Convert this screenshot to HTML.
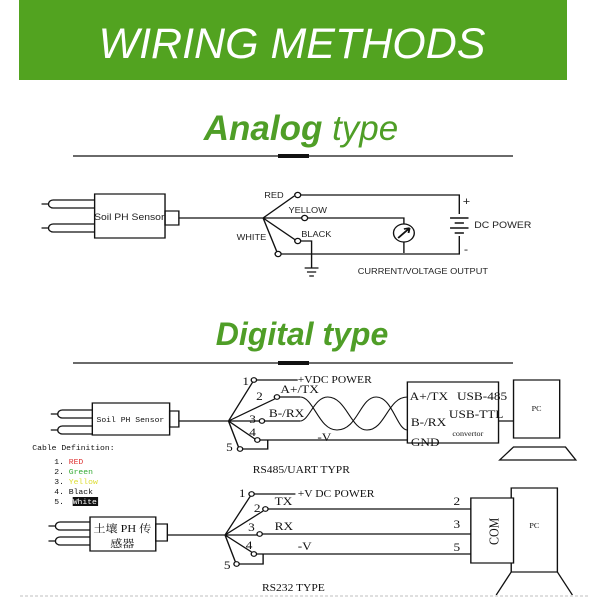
<!DOCTYPE html><html><head><meta charset="utf-8"><style>
body{margin:0;background:#fff;width:600px;height:600px;overflow:hidden}
svg{display:block}
.s{font-family:"Liberation Serif","Noto Serif CJK SC",serif;fill:#111}
.a{font-family:"Liberation Sans",sans-serif;fill:#222}
.m{font-family:"Liberation Mono",monospace;font-size:7px}
</style></head><body>
<svg width="600" height="600" viewBox="0 0 600 600" fill="none" stroke="#111" stroke-width="1.2">
<rect x="19" y="0" width="548" height="80" fill="#52a320" stroke="none"/>
<text x="292" y="58" text-anchor="middle" font-family="Liberation Sans,sans-serif" font-style="italic" font-size="43" fill="#fff" stroke="none">WIRING METHODS</text>
<text x="301" y="140" text-anchor="middle" font-family="Liberation Sans,sans-serif" font-style="italic" font-size="35" fill="#4f9e27" stroke="none"><tspan font-weight="bold">Analog</tspan> type</text>
<line x1="73" y1="156" x2="513" y2="156"/><rect x="278" y="154" width="31" height="4" fill="#111" stroke="none"/>
<text x="302" y="345" text-anchor="middle" font-family="Liberation Sans,sans-serif" font-style="italic" font-weight="bold" font-size="32" fill="#4f9e27" stroke="none">Digital type</text>
<line x1="73" y1="363" x2="513" y2="363"/><rect x="278" y="361" width="31" height="4" fill="#111" stroke="none"/>

<g transform="scale(1.154,1)">
<!-- Analog -->
<g>
<rect x="82" y="194" width="61" height="44"/><rect x="143" y="211" width="12" height="14"/>
<path d="M82 200H46a4 4 0 0 0 0 8H82M82 224H46a4 4 0 0 0 0 8H82M36 204H42M36 228H42"/>
<text x="112" y="220" text-anchor="middle" class="a" font-size="9" stroke="none">Soil PH Sensor</text>
<path d="M155 218H228L255 196M228 218H261M228 218L256 240M228 218L240 252"/>
<circle cx="258" cy="195" r="2.6" fill="#fff"/><circle cx="264" cy="218" r="2.6" fill="#fff"/>
<circle cx="258" cy="241" r="2.6" fill="#fff"/><circle cx="241" cy="254" r="2.6" fill="#fff"/>
<path d="M261 195H398V214M267 218H350V224M350 242V253M244 254H398V236M261 241H270V268"/>
<path d="M264 268H276M266 272H274M268 276H272"/>
<circle cx="350" cy="233" r="9"/><path d="M345 238L355 228M355 228l-5 1M355 228l-1 5" stroke-width="1.6"/>
<path d="M390 218H406M394 223H402M390 228H406M394 233H402" stroke-width="1.5"/>
<text x="229" y="198" class="a" font-size="8" stroke="none">RED</text>
<text x="250" y="213" class="a" font-size="8" stroke="none">YELLOW</text>
<text x="205" y="240" class="a" font-size="8" stroke="none">WHITE</text>
<text x="261" y="237" class="a" font-size="8" stroke="none">BLACK</text>
<text x="401" y="205" class="a" font-size="11" stroke="none">+</text>
<text x="402" y="253" class="a" font-size="11" stroke="none">-</text>
<text x="411" y="228" class="a" font-size="9" stroke="none">DC POWER</text>
<text x="310" y="274" class="a" font-size="8" stroke="none">CURRENT/VOLTAGE OUTPUT</text>
</g>

<!-- RS485 -->
<g>
<rect x="80" y="403" width="67" height="32"/><rect x="147" y="411" width="8" height="16"/>
<path d="M80 410H54a4 4 0 0 0 0 8H80M80 426H54a4 4 0 0 0 0 8H80M44 414H50M44 430H50"/>
<text x="113" y="422" text-anchor="middle" class="s m" stroke="none" font-size="7.5">Soil PH Sensor</text>
<path d="M155 421H198L219 382M198 421L238 399M198 421H225M198 421L221 439M198 421L207 448"/>
<circle cx="220" cy="380" r="2.3" fill="#fff"/><circle cx="240" cy="397" r="2.3" fill="#fff"/>
<circle cx="227" cy="421" r="2.3" fill="#fff"/><circle cx="223" cy="440" r="2.3" fill="#fff"/>
<circle cx="208" cy="449" r="2.3" fill="#fff"/>
<path d="M222 380H258M242 397H260M229 421H260M225 440H353M210 449H232V440"/>
<path d="M260 397C272 397 276 430 292 430C310 430 312 397 326 397C340 397 344 430 353 430M260 421C268 421 272 397 284 397C300 397 304 430 318 430C334 430 336 397 353 397" stroke-width="1"/>
<rect x="353" y="382" width="79" height="61"/>
<rect x="445" y="380" width="40" height="58"/><path d="M432 421H445M445 447H490L499 460H433Z"/>
<text x="465" y="411" text-anchor="middle" class="s" font-size="7" stroke="none">PC</text>
<g class="s" font-size="11.5" stroke="none">
<text x="210" y="385">1</text><text x="222" y="400">2</text><text x="216" y="423">3</text><text x="216" y="436">4</text><text x="196" y="451">5</text>
<text x="258" y="383" font-size="10">+VDC POWER</text><text x="243" y="393">A+/TX</text><text x="233" y="417">B-/RX</text><text x="275" y="441">-V</text>
<text x="355" y="400">A+/TX</text><text x="396" y="400">USB-485</text><text x="356" y="426">B-/RX</text><text x="389" y="418">USB-TTL</text>
<text x="356" y="446">GND</text><text x="392" y="436" font-size="7">convertor</text>
<text x="219" y="473" font-size="10">RS485/UART TYPR</text>
</g>
<g class="s m" stroke="none">
<text x="28" y="450">Cable Definition:</text>
<text x="47" y="464">1. <tspan fill="#d33">RED</tspan></text>
<text x="47" y="474">2. <tspan fill="#3a3">Green</tspan></text>
<text x="47" y="484">3. <tspan fill="#dd3">Yellow</tspan></text>
<text x="47" y="494">4. Black</text>
<text x="47" y="504">5. </text>
</g>
<rect x="63" y="497" width="22" height="9" fill="#111" stroke="none"/>
<text x="63" y="504" class="s m" stroke="none" style="fill:#fff">White</text>
</g>

<!-- RS232 -->
<g>
<rect x="78" y="517" width="57" height="34"/><rect x="135" y="524" width="10" height="17"/>
<path d="M78 522H52a4 4 0 0 0 0 8H78M78 537H52a4 4 0 0 0 0 8H78M42 526H48M42 541H48"/>
<text x="106" y="532" text-anchor="middle" class="s" font-size="10.5" stroke="none">土壤 PH 传</text>
<text x="106" y="547" text-anchor="middle" class="s" font-size="10.5" stroke="none">感器</text>
<path d="M145 535H195L217 496M195 535L228 511M195 535H223M195 535L218 552M195 535L204 562"/>
<circle cx="218" cy="494" r="2.3" fill="#fff"/><circle cx="230" cy="509" r="2.3" fill="#fff"/>
<circle cx="225" cy="534" r="2.3" fill="#fff"/><circle cx="220" cy="554" r="2.3" fill="#fff"/>
<circle cx="205" cy="564" r="2.3" fill="#fff"/>
<path d="M220 494H256M232 509H408M227 534H408M222 554H408M207 564H228V554"/>
<rect x="443" y="488" width="40" height="84"/><rect x="408" y="498" width="37" height="65" fill="#fff"/>
<path d="M443 572L430 595M483 572L496 595"/>
<text x="463" y="528" text-anchor="middle" class="s" font-size="7" stroke="none">PC</text>
<text transform="translate(432 545) rotate(-90)" class="s" font-size="12" stroke="none">COM</text>
<g class="s" font-size="11.5" stroke="none">
<text x="207" y="497">1</text><text x="220" y="512">2</text><text x="215" y="531">3</text><text x="213" y="549">4</text><text x="194" y="569">5</text>
<text x="258" y="497" font-size="10">+V DC POWER</text><text x="238" y="505">TX</text><text x="238" y="530">RX</text><text x="258" y="550">-V</text>
<text x="393" y="505">2</text><text x="393" y="528">3</text><text x="393" y="551">5</text>
<text x="227" y="591" font-size="10">RS232 TYPE</text>
</g>
</g>
</g>
<line x1="20" y1="596" x2="590" y2="596" stroke="#ccc" stroke-dasharray="3 2"/>
</svg>
</body></html>
